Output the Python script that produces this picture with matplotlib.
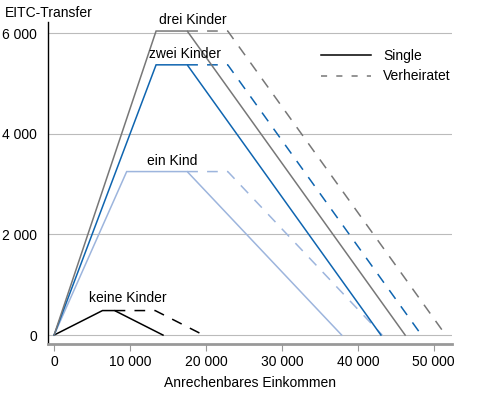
import matplotlib
matplotlib.use("Agg")
import matplotlib.pyplot as plt

# EITC parameters (2013)
kinder = ["keine Kinder", "ein Kind", "zwei Kinder", "drei Kinder"]
max_betrag = [487, 3250, 5372, 6044]
einstieg_ende = [6370, 9560, 13430, 13430]
ausstieg_single = [7970, 17530, 17530, 17530]
ende_single = [14340, 37870, 43038, 46227]
ausstieg_verh = [13310, 22870, 22870, 22870]
ende_verh = [19680, 43210, 48378, 51567]

farben = ["#000000", "#9db5dd", "#0f65b0", "#777777"]
label_pos = [(9650, 600), (15600, 3320), (17300, 5450), (18250, 6130)]

plt.rcParams["font.family"] = ["Liberation Sans", "DejaVu Sans"]
plt.rcParams["font.size"] = 10

fig = plt.figure(figsize=(4.85, 3.96), dpi=100)
ax = fig.add_axes([0.099, 0.131, 0.833, 0.813])

for i in range(len(kinder)):
    xs = [0, einstieg_ende[i], ausstieg_single[i], ende_single[i]]
    ys = [0, max_betrag[i], max_betrag[i], 0]
    ax.plot(xs, ys, color=farben[i], lw=1.1, solid_joinstyle="miter")
    xd = [ausstieg_single[i], ausstieg_verh[i], ende_verh[i]]
    yd = [max_betrag[i], max_betrag[i], 0]
    ax.plot(xd, yd, color=farben[i], lw=1.1, dashes=(7, 6))
    ax.text(label_pos[i][0], label_pos[i][1], kinder[i], ha="center",
            va="bottom")

ax.set_xlim(-800, 52400)
ax.set_ylim(-180, 6220)
ax.set_xticks([0, 10000, 20000, 30000, 40000, 50000])
ax.set_xticklabels(["0", "10 000", "20 000", "30 000", "40 000", "50 000"])
ax.set_yticks([0, 2000, 4000, 6000])
ax.set_yticklabels(["0", "2 000", "4 000", "6 000"])
ax.grid(axis="y", color="#bbbbbb", lw=0.8)
ax.set_axisbelow(True)

for s in ["top", "right"]:
    ax.spines[s].set_visible(False)
ax.spines["left"].set_color("black")
ax.spines["left"].set_linewidth(1.0)
ax.spines["bottom"].set_color("#999999")
ax.spines["bottom"].set_linewidth(2.0)
ax.tick_params(axis="y", length=0, pad=8)
ax.tick_params(axis="x", length=5, color="#999999", pad=3)

ax.set_xlabel("Anrechenbares Einkommen", labelpad=5)
fig.text(0.01, 0.968, "EITC-Transfer", va="center", ha="left")

h1, = ax.plot([], [], color="black", lw=1.1)
h2, = ax.plot([], [], color="#777777", lw=1.1, dashes=(4, 6))
ax.legend([h1, h2], ["Single", "Verheiratet"], frameon=False,
          loc="upper left", bbox_to_anchor=(0.645, 0.955), handlelength=3.6,
          handletextpad=0.85, labelspacing=0.45)

fig.savefig("out.png", dpi=100)
